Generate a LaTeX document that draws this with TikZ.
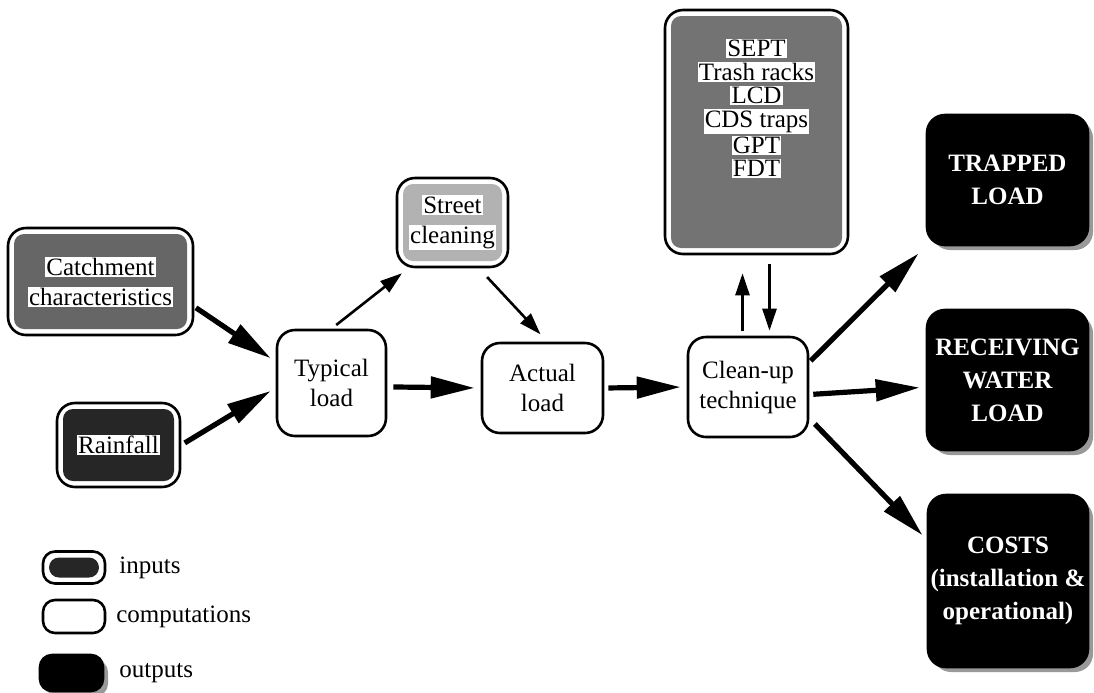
\documentclass[tikz,border=0pt]{standalone}
\usepackage{fontspec}
\setmainfont{Liberation Serif}
\usetikzlibrary{arrows.meta,positioning,shadows}
\newcommand\wbox[1]{{\setlength\fboxsep{0.6pt}\colorbox{white}{#1}}}
\tikzset{
 procbox/.style={draw,line width=1.3pt,rounded corners=9pt,align=center,inner sep=2pt,fill=white},
 inbox/.style={procbox,path picture={\fill[black!#1,rounded corners=5pt]
  ([shift={(3pt,-3pt)}]path picture bounding box.north west) rectangle
  ([shift={(-3pt,3pt)}]path picture bounding box.south east);}},
 outbox/.style={procbox,fill=black,text=white,inner sep=1pt,font=\fontsize{12.5}{16.5}\selectfont\bfseries,
  drop shadow={shadow xshift=2.5pt,shadow yshift=-2.5pt,fill=black!40,opacity=1}},
 fatarr/.style={-{Triangle[length=22pt,width=10.5pt]},line width=2.6pt,shorten >=3pt},
 thinarr/.style={-{Triangle[length=11pt,width=7pt]},line width=1.3pt},
}
\begin{document}
\begin{tikzpicture}[x=0.5pt,y=-0.5pt,font=\fontsize{12.5}{15}\selectfont]
 \useasboundingbox (0,0) rectangle (1094,692);
 \node[inbox=60,minimum width=92.5pt,minimum height=53.5pt] (catch) at (100.5,281.5) {\wbox{Catchment}\\\wbox{characteristics}};
 \node[inbox=85,minimum width=61.5pt,minimum height=42pt] (rain) at (118.5,445) {\wbox{Rainfall}};
 \node[procbox,minimum width=54.5pt,minimum height=53pt] (typ) at (331.5,383) {Typical\\load};
 \node[inbox=30,minimum width=55.5pt,minimum height=44.5pt] (street) at (452.5,222.5) {\wbox{Street}\\\wbox{cleaning}};
 \node[procbox,minimum width=60.5pt,minimum height=45pt] (act) at (542.5,388) {Actual\\load};
 \node[procbox,minimum width=60pt,minimum height=50pt] (clean) at (748,387) {Clean-up\\technique};
 \node[inbox=55,minimum width=91.5pt,minimum height=122pt,text depth=24pt,font=\fontsize{12.5}{11.7}\selectfont] (traps) at (756.5,132)
  {\wbox{SEPT}\\\wbox{Trash racks}\\\wbox{LCD}\\\wbox{CDS traps}\\\wbox{GPT}\\\wbox{FDT}};
 \node[outbox,minimum width=80.5pt,minimum height=65pt] (trapped) at (1007.5,180) {TRAPPED\\LOAD};
 \node[outbox,minimum width=80.5pt,minimum height=70pt] (recv) at (1007.5,380) {RECEIVING\\WATER\\LOAD};
 \node[outbox,minimum width=80pt,minimum height=86pt] (costs) at (1008,581) {COSTS\\(installation \&\\operational)};

 \draw[fatarr,shorten <=1pt] (catch.-15) -- (typ.159);
 \draw[fatarr,shorten <=2pt] (rain.east) -- (typ.185);
 \draw[thinarr,shorten <=3pt,shorten >=4pt] (typ.north) -- (street.226);
 \draw[thinarr,shorten <=6pt,shorten >=5pt] (street.-60) -- (act.84);
 \draw[fatarr,shorten <=3pt] (typ.-4) -- (act.west);
 \draw[fatarr,shorten <=2pt] (act.east) -- (clean.west);
 \draw[thinarr,shorten <=2.5pt,shorten >=9pt] ([xshift=-7pt]traps.south |- clean.north) -- ([xshift=-7pt]traps.south);
 \draw[thinarr,shorten <=4.5pt,shorten >=2.5pt] ([xshift=6.5pt]traps.south) -- ([xshift=6.5pt]traps.south |- clean.north);
 \draw[fatarr,shorten <=1pt,shorten >=5pt] (clean.22) -- (trapped.south west);
 \draw[fatarr,shorten <=2pt] (clean.-7) -- (recv.185);
 \draw[fatarr,shorten <=4pt,shorten >=3pt] (clean.-27) -- (costs.153);

 \node[inbox=85,rounded corners=6pt,minimum width=31pt,minimum height=16pt] (legin) at (74,567.5) {};
 \node[procbox,rounded corners=6pt,minimum width=31pt,minimum height=16.5pt] (legcomp) at (74,616.5) {};
 \node[outbox,rounded corners=6pt,minimum width=31.5pt,minimum height=18pt] (legout) at (71.5,673) {};
 \node[right=3pt of legin] (tin) {inputs};
 \node[right=1.5pt of legcomp] (tcomp) {computations};
 \node[right=4pt of legout] (tout) {outputs};
\end{tikzpicture}
\end{document}
